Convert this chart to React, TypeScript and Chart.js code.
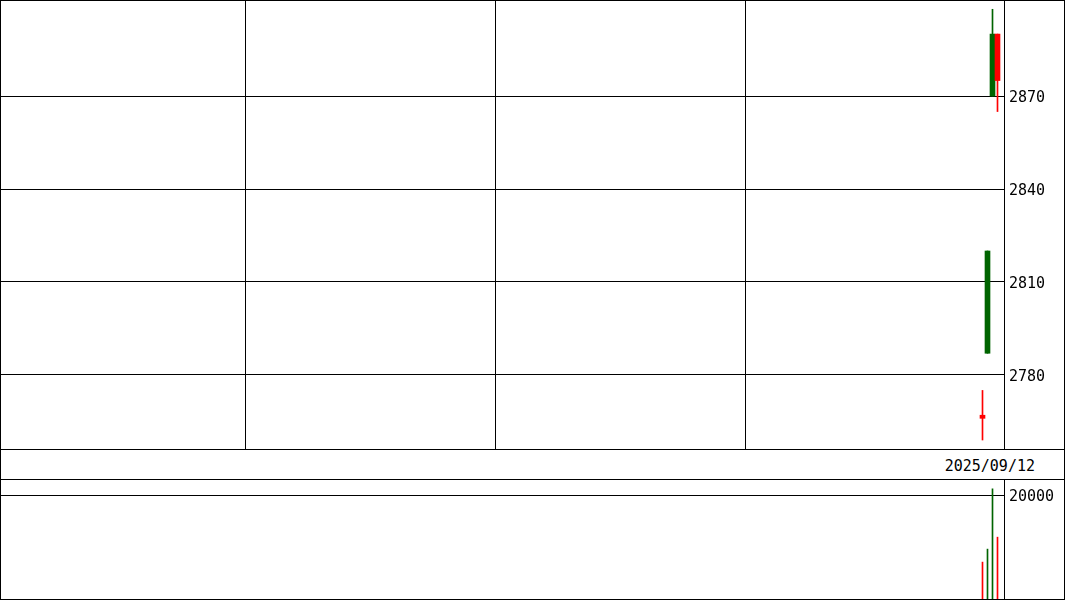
import { useEffect, useRef } from "react"
import Chart from "chart.js/auto"

// slot index of each day on the 0..200 x range (last slot is empty)
const candleSlots = [196, 197, 198, 199]
const opens = [2767, 2787, 2870, 2890]
const closes = [2766, 2820, 2890, 2875]
const highs = [2775, 2820, 2898, 2890]
const lows = [2759, 2787, 2870, 2865]
const volumes = [7100, 9600, 21200, 11900]

const priceTicks = [2780, 2810, 2840, 2870]
const volumeTicks = [20000]
// vertical dividers sit between two day slots
const dividerSlots = [48.6, 98.6, 148.6]
const lastDate = "2025/09/12"

const UP = "#006400"
const DOWN = "#ff0000"
const FONT = "'DejaVu Sans Mono', monospace"

const colors = candleSlots.map((_, i) => (closes[i] >= opens[i] ? UP : DOWN))

// black frame round each canvas
const framePlugin = {
  id: "frame",
  afterDraw(chart: any) {
    const { ctx, width, height } = chart
    ctx.save()
    ctx.strokeStyle = "#000"
    ctx.lineWidth = 1
    ctx.strokeRect(0.5, 0.5, width - 1, height - 1)
    ctx.restore()
  },
}

const rightAxis = (min: number, max: number, ticks: number[]) => ({
  type: "linear" as const,
  position: "right" as const,
  min,
  max,
  afterBuildTicks: (axis: any) => {
    axis.ticks = ticks.map((value) => ({ value }))
  },
  afterFit: (axis: any) => {
    axis.width = 61
    axis.paddingTop = 0
    axis.paddingBottom = 0
  },
  grid: { color: "#000", lineWidth: 1, drawTicks: false },
  border: { display: true, color: "#000", width: 1 },
  ticks: {
    color: "#000",
    padding: 5,
    labelOffset: 2,
    font: { family: FONT, size: 15 },
    callback: (v: any) => String(v),
  },
})

export default function App() {
  const priceRef = useRef<HTMLCanvasElement>(null)
  const volRef = useRef<HTMLCanvasElement>(null)

  useEffect(() => {
    if (!priceRef.current || !volRef.current) return

    const price = new Chart(priceRef.current, {
      type: "bar",
      data: {
        datasets: [
          {
            label: "body",
            data: candleSlots.map((x, i) => ({ x, y: [opens[i], closes[i]] })) as any,
            backgroundColor: colors,
            barThickness: 5,
            grouped: false,
            borderWidth: 0,
            order: 0,
          },
          {
            label: "wick",
            data: candleSlots.map((x, i) => ({ x, y: [lows[i], highs[i]] })) as any,
            backgroundColor: colors,
            barThickness: 1,
            grouped: false,
            borderWidth: 0,
            order: 1,
          },
        ],
      },
      options: {
        responsive: false,
        animation: false,
        layout: { padding: { top: 0, bottom: 1, left: 0, right: 0 } },
        plugins: { legend: { display: false }, tooltip: { enabled: false } },
        scales: {
          x: {
            type: "linear",
            min: -0.5,
            max: 200.3,
            offset: false,
            afterBuildTicks: (axis: any) => {
              axis.ticks = dividerSlots.map((value) => ({ value }))
            },
            afterFit: (axis: any) => {
              axis.height = 0
              axis.paddingLeft = 0
              axis.paddingRight = 0
            },
            grid: { color: "#000", offset: false, drawTicks: false },
            border: { display: false },
            ticks: { display: false },
          },
          y: rightAxis(2756.1, 2901, priceTicks),
        },
      },
      plugins: [framePlugin],
    })

    const volume = new Chart(volRef.current, {
      type: "bar",
      data: {
        datasets: [
          {
            label: "volume",
            data: candleSlots.map((x, i) => ({ x, y: volumes[i] })) as any,
            backgroundColor: colors,
            barThickness: 1,
            grouped: false,
            borderWidth: 0,
          },
        ],
      },
      options: {
        responsive: false,
        animation: false,
        layout: { padding: { top: 1, bottom: 1, left: 0, right: 0 } },
        plugins: { legend: { display: false }, tooltip: { enabled: false } },
        scales: {
          x: { type: "linear", min: -0.5, max: 200.3, offset: false, display: false },
          y: rightAxis(0, 22900, volumeTicks),
        },
      },
      plugins: [framePlugin],
    })

    return () => {
      price.destroy()
      volume.destroy()
    }
  }, [])

  return (
    <div style={{ position: "absolute", left: 0, top: 0, width: 1065, height: 600, background: "#fff" }}>
      <canvas ref={priceRef} width={1065} height={450} style={{ position: "absolute", left: 0, top: 0, display: "block" }} />
      <div
        style={{
          position: "absolute",
          left: 0,
          top: 450,
          width: 1063,
          height: 29,
          borderLeft: "1px solid #000",
          borderRight: "1px solid #000",
          fontFamily: FONT,
          fontSize: 15,
          lineHeight: "29px",
          textAlign: "right",
          color: "#000",
        }}
      >
        <span style={{ paddingRight: 29, position: "relative", top: 2 }}>{lastDate}</span>
      </div>
      <canvas ref={volRef} width={1065} height={121} style={{ position: "absolute", left: 0, top: 479, display: "block" }} />
    </div>
  )
}
